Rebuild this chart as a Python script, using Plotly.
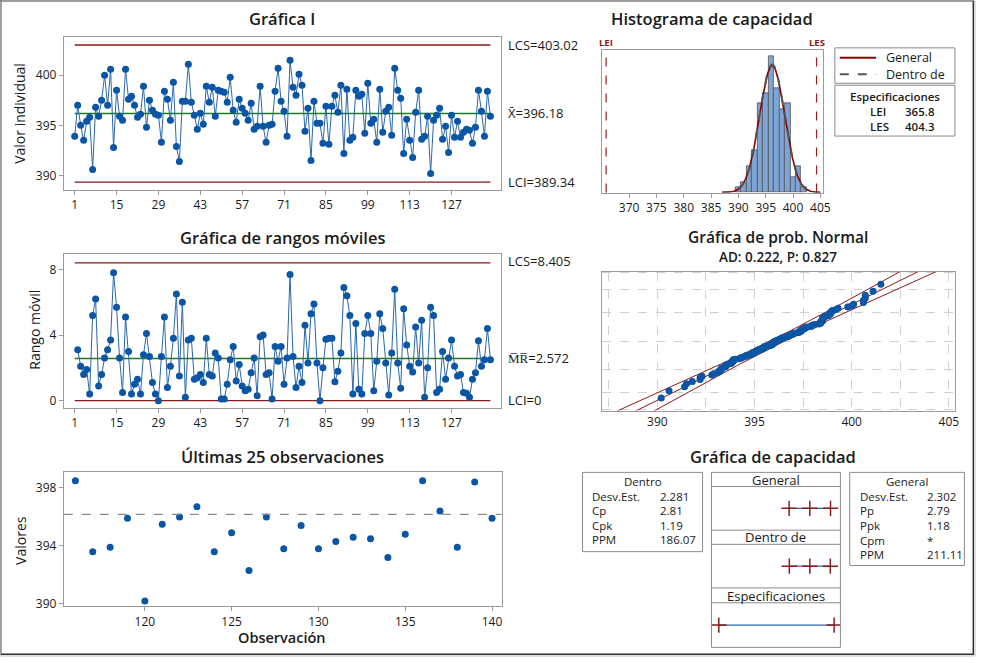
import math
from statistics import NormalDist
import plotly.graph_objects as go

W, H = 984, 663
FONT = "Open Sans"
TXT = "#1a1a1a"
BLUE = "#0b56a4"
LINE_BLUE = "#2a66ad"
RED = "#8b1a1a"
GREEN = "#1f7a1f"
AXC = "#9a9a9a"

# ---------------- data ----------------
observaciones = list(range(1, 141))
valores = [
    393.9, 397.0, 395.0, 393.5, 395.4, 395.8, 390.6, 396.8, 395.9, 397.5,
    400.0, 397.0, 400.6, 392.8, 398.5, 395.9, 395.5, 400.6, 397.6, 397.9,
    397.0, 395.8, 396.1, 398.9, 394.8, 397.5, 396.5, 396.1, 396.0, 393.3,
    398.4, 397.6, 395.5, 399.3, 392.9, 391.4, 397.4, 397.4, 401.1, 397.3,
    396.0, 394.6, 396.2, 395.1, 398.9, 397.3, 398.8, 395.9, 398.5, 398.4,
    398.3, 397.3, 399.8, 396.5, 395.3, 397.6, 396.7, 396.2, 395.5, 397.2,
    394.6, 394.9, 398.9, 394.9, 393.3, 395.0, 395.1, 398.4, 400.7, 397.4,
    396.4, 393.9, 401.5, 398.8, 398.0, 400.1, 399.0, 394.4, 396.7, 391.5,
    397.4, 395.2, 395.2, 393.2, 396.9, 393.1, 396.9, 398.0, 396.3, 399.0,
    392.2, 398.6, 393.5, 393.8, 398.5, 397.9, 398.1, 394.2, 399.2, 395.2,
    395.6, 393.3, 398.6, 394.3, 396.4, 396.8, 394.0, 400.7, 398.5, 397.7,
    392.2, 395.6, 393.5, 391.8, 396.3, 398.5, 393.6, 393.9, 395.9, 390.2,
    395.5, 396.0, 396.7, 393.6, 394.9, 392.3, 396.0, 393.8, 395.4, 393.8,
    394.3, 394.6, 394.5, 393.2, 394.8, 398.5, 396.4, 393.9, 398.4, 395.9,
]
rm_observaciones = list(range(2, 141))
rangos_moviles = [
    3.1, 2.1, 1.6, 1.9, 0.4, 5.2, 6.2, 0.9, 1.6, 2.6,
    3.1, 3.7, 7.8, 5.7, 2.6, 0.5, 5.1, 3.0, 0.4, 1.0,
    1.3, 0.4, 2.8, 4.1, 2.7, 1.1, 0.4, 0.0, 2.7, 5.1,
    0.8, 2.1, 3.8, 6.5, 1.5, 6.0, 0.2, 3.7, 3.8, 1.3,
    1.4, 1.6, 1.1, 3.8, 1.6, 1.5, 2.9, 2.6, 0.1, 0.1,
    1.0, 2.5, 3.3, 1.2, 2.2, 0.9, 0.6, 0.7, 1.7, 2.6,
    0.3, 3.9, 4.0, 1.6, 1.7, 0.1, 3.3, 2.4, 3.3, 1.0,
    2.6, 7.7, 2.7, 0.8, 2.1, 1.1, 4.6, 2.3, 5.3, 5.9,
    2.3, 0.0, 2.0, 3.75, 3.8, 3.8, 1.15, 1.8, 2.9, 6.9,
    6.4, 5.2, 0.4, 4.7, 0.7, 0.4, 4.1, 5.2, 4.1, 0.6,
    2.4, 5.3, 4.4, 2.3, 0.35, 2.9, 6.8, 2.3, 0.75, 5.6,
    3.4, 2.1, 1.75, 4.5, 2.3, 4.9, 0.2, 2.0, 5.7, 5.2,
    0.5, 0.7, 3.0, 1.3, 2.6, 3.7, 2.1, 1.5, 1.6, 0.5,
    0.45, 0.2, 1.3, 1.7, 3.65, 2.1, 2.5, 4.4, 2.5,
]
ultimas_obs = observaciones[-25:]
ultimas_val = valores[-25:]

lcs_i, media_i, lci_i = 403.02, 396.18, 389.34
lcs_rm, media_rm, lci_rm = 8.405, 2.572, 0.0
lei, les = 365.8, 404.3
sd_dentro, sd_general = 2.281, 2.302
general_marcas = [389.27, 396.18, 403.09]
dentro_marcas = [389.34, 396.18, 403.02]
espec_marcas = [365.8, 404.3]

i_ticks = [1, 15, 29, 43, 57, 71, 85, 99, 113, 127]
i_yticks = [390, 395, 400]
rm_yticks = [0, 4, 8]
ult_xticks = [120, 125, 130, 135, 140]
ult_yticks = [390, 394, 398]
hist_ticks = [370, 375, 380, 385, 390, 395, 400, 405]
normal_ticks = [387.5, 390, 392.5, 395, 397.5, 400, 402.5, 405]
normal_ticktext = ["", "390", "", "395", "", "400", "", "405"]
prob_levels = [0.1, 1, 10, 50, 90, 99, 99.9]

tabla_dentro = [("Desv.Est.", "2.281"), ("Cp", "2.81"), ("Cpk", "1.19"), ("PPM", "186.07")]
tabla_general = [("Desv.Est.", "2.302"), ("Pp", "2.79"), ("Ppk", "1.18"), ("Cpm", "*"), ("PPM", "211.11")]

# ---------------- helpers ----------------
def xd(a, b):
    return [a / W, b / W]

def yd(top, bottom):
    return [1 - bottom / H, 1 - top / H]

def px(x):
    return x / W

def py(y):
    return 1 - y / H

annotations = []
shapes = []

def ann(text, x, y, size=12.5, anchor="left", color=TXT, angle=0, weight="normal"):
    annotations.append(dict(text=text, x=px(x), y=py(y), xref="paper", yref="paper",
                            xanchor=anchor, yanchor="middle", showarrow=False, textangle=angle,
                            font=dict(family=FONT, size=size, color=color, weight=weight)))

def rect(x0, y0, x1, y1, color="#8a8a8a", width=1):
    shapes.append(dict(type="rect", xref="paper", yref="paper", x0=px(x0), x1=px(x1),
                       y0=py(y1), y1=py(y0), line=dict(color=color, width=width),
                       fillcolor="rgba(0,0,0,0)", layer="above"))

def hline(x0, x1, y, color="#8a8a8a", width=1, dash="solid"):
    shapes.append(dict(type="line", xref="paper", yref="paper", x0=px(x0), x1=px(x1),
                       y0=py(y), y1=py(y), line=dict(color=color, width=width, dash=dash)))

fig = go.Figure()

axis_common = dict(showline=True, linecolor=AXC, linewidth=1, mirror=True, showgrid=False,
                   zeroline=False, ticks="outside", ticklen=4, tickcolor=AXC,
                   tickfont=dict(family=FONT, size=12, color=TXT))

MS = 7

# ---------------- I chart ----------------
for yv, col in ((lcs_i, RED), (lci_i, RED), (media_i, GREEN)):
    fig.add_trace(go.Scatter(x=[1, 140], y=[yv, yv], mode="lines", line=dict(color=col, width=1.3),
                             xaxis="x", yaxis="y", hoverinfo="skip"))
fig.add_trace(go.Scatter(x=observaciones, y=valores, mode="lines+markers",
                         line=dict(color=LINE_BLUE, width=1), marker=dict(color=BLUE, size=MS),
                         xaxis="x", yaxis="y"))

# ---------------- MR chart ----------------
for yv, col in ((lcs_rm, RED), (lci_rm, RED), (media_rm, GREEN)):
    fig.add_trace(go.Scatter(x=[1, 140], y=[yv, yv], mode="lines", line=dict(color=col, width=1.3),
                             xaxis="x2", yaxis="y2", hoverinfo="skip"))
fig.add_trace(go.Scatter(x=rm_observaciones, y=rangos_moviles, mode="lines+markers",
                         line=dict(color=LINE_BLUE, width=1), marker=dict(color=BLUE, size=MS),
                         xaxis="x2", yaxis="y2"))

# ---------------- last 25 ----------------
fig.add_trace(go.Scatter(x=ultimas_obs, y=ultimas_val, mode="markers",
                         marker=dict(color=BLUE, size=MS), xaxis="x3", yaxis="y3"))
shapes.append(dict(type="line", xref="x3 domain", yref="y3", x0=0, x1=1, y0=media_i, y1=media_i,
                   line=dict(color="#8c8c8c", width=1.2, dash="dash")))

# ---------------- histogram ----------------
n = len(valores)
fig.add_trace(go.Histogram(x=valores, xbins=dict(start=389.5, end=402.5, size=1),
                           marker=dict(color="#7fa5d6", line=dict(color="#505050", width=0.8)),
                           xaxis="x4", yaxis="y4"))
cx = [387.0 + 0.1 * k for k in range(181)]
def pdf_counts(x, s):
    return n * 1.0 * math.exp(-0.5 * ((x - media_i) / s) ** 2) / (s * math.sqrt(2 * math.pi))
fig.add_trace(go.Scatter(x=cx, y=[pdf_counts(v, sd_general) for v in cx], mode="lines",
                         line=dict(color="#8b0000", width=1.6), xaxis="x4", yaxis="y4", hoverinfo="skip"))
fig.add_trace(go.Scatter(x=cx, y=[pdf_counts(v, sd_dentro) for v in cx], mode="lines",
                         line=dict(color="#555555", width=2, dash="dash"), xaxis="x4", yaxis="y4", hoverinfo="skip"))
for spec in (lei, les):
    shapes.append(dict(type="line", xref="x4", yref="y4 domain", x0=spec, x1=spec, y0=0, y1=1,
                       line=dict(color="#a01c1c", width=1.2, dash="dash")))

# ---------------- normal probability plot ----------------
nd = NormalDist()
orden = sorted(valores)
z_pts = [nd.inv_cdf((k + 1 - 0.3) / (n + 0.4)) for k in range(n)]
zs = [-3.4 + 0.05 * k for k in range(137)]
fit = [media_i + sd_general * z for z in zs]
half = [1.96 * sd_general * math.sqrt(1 / n + z * z / (2 * (n - 1))) for z in zs]
for sgn in (-1, 0, 1):
    fig.add_trace(go.Scatter(x=[f + sgn * h for f, h in zip(fit, half)], y=zs, mode="lines",
                             line=dict(color="#8b1a1a", width=1), xaxis="x5", yaxis="y5", hoverinfo="skip"))
fig.add_trace(go.Scatter(x=orden, y=z_pts, mode="markers", marker=dict(color=BLUE, size=MS),
                         xaxis="x5", yaxis="y5"))
prob_z = [nd.inv_cdf(p / 100) for p in prob_levels]

# ---------------- capability plot ----------------
for marks, xa, ya in ((general_marcas, "x6", "y6"), (dentro_marcas, "x7", "y7"), (espec_marcas, "x8", "y8")):
    fig.add_trace(go.Scatter(x=marks, y=[0] * len(marks), mode="lines", line=dict(color=LINE_BLUE, width=1.2),
                             xaxis=xa, yaxis=ya, hoverinfo="skip"))
    fig.add_trace(go.Scatter(x=marks, y=[0] * len(marks), mode="markers",
                             marker=dict(symbol="cross-thin", size=11, line=dict(color="#8b1a1a", width=1.5)),
                             xaxis=xa, yaxis=ya, hoverinfo="skip"))

# ---------------- layout ----------------
hidden = dict(visible=False, showgrid=False, zeroline=False)
layout = dict(
    width=W, height=H, margin=dict(l=0, r=0, t=0, b=0), showlegend=False,
    paper_bgcolor="white", plot_bgcolor="white", bargap=0,
    xaxis=dict(axis_common, domain=xd(64.3, 505), range=[-2.65, 143.5], tickvals=i_ticks),
    yaxis=dict(axis_common, domain=yd(37.5, 191.7), range=[388.55, 403.8], tickvals=i_yticks),
    xaxis2=dict(axis_common, domain=xd(64.3, 505), range=[-2.65, 143.5], tickvals=i_ticks, anchor="y2"),
    yaxis2=dict(axis_common, domain=yd(256.7, 411.7), range=[-0.447, 8.925], tickvals=rm_yticks, anchor="x2"),
    xaxis3=dict(axis_common, domain=xd(64.3, 505.7), range=[115.33, 140.55], tickvals=ult_xticks, anchor="y3"),
    yaxis3=dict(axis_common, domain=yd(476.7, 611.7), range=[389.84, 399.07], tickvals=ult_yticks, anchor="x3"),
    xaxis4=dict(axis_common, domain=xd(606.7, 829.3), range=[365.0, 405.4], tickvals=hist_ticks, anchor="y4"),
    yaxis4=dict(axis_common, domain=yd(50.7, 194.3), range=[0, 27.2], showticklabels=False, ticks="", anchor="x4"),
    xaxis5=dict(axis_common, domain=xd(606.7, 963.3), range=[387.14, 405.34], tickvals=normal_ticks,
                ticktext=normal_ticktext, ticks="", showgrid=True, gridcolor="#d0d0d0", griddash="dash", anchor="y5"),
    yaxis5=dict(axis_common, domain=yd(274, 414.3), range=[-3.15, 3.15], tickvals=prob_z,
                showticklabels=False, ticks="", showgrid=True, gridcolor="#d0d0d0", griddash="dash", anchor="x5"),
    xaxis6=dict(hidden, domain=xd(717.3, 847.3), range=[363.35, 406.39], anchor="y6"),
    yaxis6=dict(hidden, domain=yd(491, 535), range=[-1, 1], anchor="x6"),
    xaxis7=dict(hidden, domain=xd(717.3, 847.3), range=[363.35, 406.39], anchor="y7"),
    yaxis7=dict(hidden, domain=yd(549.3, 593.3), range=[-1, 1], anchor="x7"),
    xaxis8=dict(hidden, domain=xd(717.3, 847.3), range=[363.35, 406.39], anchor="y8"),
    yaxis8=dict(hidden, domain=yd(608.3, 653.3), range=[-1, 1], anchor="x8"),
)

# titles
TS = 16.5
SB = 600
ann("Gráfica I", 284.5, 19, TS, "center", weight=SB)
ann("Gráfica de rangos móviles", 284.5, 240, TS, "center", weight=SB)
ann("Últimas 25 observaciones", 284.5, 460.5, TS, "center", weight=SB)
ann("Histograma de capacidad", 717.5, 19, TS, "center", weight=SB)
ann("Gráfica de prob. Normal", 784, 239, 15.5, "center", weight=SB)
ann("AD: 0.222, P: 0.827", 784, 259, 13.5, "center", weight=SB)
ann("Gráfica de capacidad", 779, 460.5, TS, "center", weight=SB)

# axis titles
ann("Valor individual", 20, 114, 14, "center", angle=-90)
ann("Rango móvil", 35, 333, 14, "center", angle=-90)
ann("Valores", 20, 545, 14, "center", angle=-90)
ann("Observación", 284.5, 643.5, 14.5, "center", weight=SB)

# control limit labels
ann("LCS=403.02", 510, 45, 13)
ann("X\u0304=396.18", 510, 114, 13)
ann("LCI=389.34", 510, 184, 13)
ann("LCS=8.405", 510, 263.5, 13)
ann("M\u0305R\u0305=2.572", 510, 361, 13)
ann("LCI=0", 510, 403.5, 13)

# spec labels above histogram
ann("LEI", 610.5, 42.5, 9.5, "center", color="#8b1a1a", weight="bold")
ann("LES", 824, 42.5, 9.5, "center", color="#8b1a1a", weight="bold")

# histogram legend
rect(841.7, 48.3, 962.7, 84)
hline(846.7, 883.3, 58.3, color="#8b0000", width=2)
hline(846.7, 883.3, 75, color="#555555", width=2, dash="dash")
ann("General", 891.7, 58.3, 12.5)
ann("Dentro de", 891.7, 75, 12.5)
rect(841.7, 86, 962.7, 137.3)
ann("Especificaciones", 902, 97.3, 11.5, "center", weight=SB)
ann("LEI", 875, 112.7, 11.5, weight=SB)
ann("365.8", 910, 112.7, 11.5, weight=SB)
ann("LES", 875, 127.3, 11.5, weight=SB)
ann("404.3", 910, 127.3, 11.5, weight=SB)

# capability tables
TF = 11.5
rect(587.3, 476.7, 708.3, 556.7)
ann("Dentro", 647.8, 486, TF, "center")
for k, (lab, val) in enumerate(tabla_dentro):
    yy = 500.7 + k * 14.6
    ann(lab, 595, yy, TF)
    ann(val, 663.3, yy, TF)
rect(856.7, 476.7, 972.3, 570.7)
ann("General", 914.5, 486, TF, "center")
for k, (lab, val) in enumerate(tabla_general):
    yy = 500.7 + k * 14.8
    ann(lab, 865, yy, TF)
    ann(val, 932.7, yy, TF)

# capability panel frame
rect(717.3, 476.7, 847.3, 653.3)
for yy in (491, 535, 549.3, 593.3, 608.3):
    hline(717.3, 847.3, yy)
ann("General", 782.3, 484, 13, "center")
ann("Dentro de", 782.3, 542.3, 13, "center")
ann("Especificaciones", 782.3, 601, 13, "center")

# outer frame
rect(0.75, 0.75, 981.3, 660.3, color="#303030", width=1.5)
rect(0.75, 0.75, 983, 662, color="#c0c0c0", width=1)

layout["annotations"] = annotations
layout["shapes"] = shapes
fig.update_layout(**layout)

fit_window = (
    "document.body.style.margin='0';"
    "document.body.style.overflow='hidden';"
    "document.documentElement.style.overflow='hidden';"
    "var gd=document.getElementById('{plot_id}');"
    "var w=window.innerWidth, h=window.innerHeight;"
    "if (w > 600 && h > 400 && (Math.abs(w-984) > 1 || Math.abs(h-663) > 1)) {"
    "  Plotly.relayout(gd, {width: w, height: h});"
    "}"
)
fig.write_html("out.html", config={"displayModeBar": False}, post_script=fit_window)
